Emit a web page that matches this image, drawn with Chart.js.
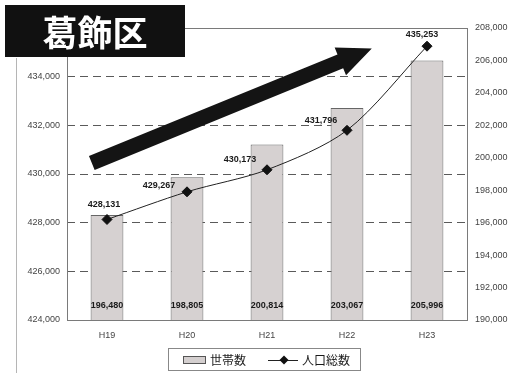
<!DOCTYPE html>
<html>
<head>
<meta charset="utf-8">
<script src="https://cdn.jsdelivr.net/npm/chart.js@4.4.1/dist/chart.umd.min.js"></script>
<style>
  html, body { margin: 0; padding: 0; background: #fff; }
  #wrap { width: 510px; height: 373px; }
</style>
</head>
<body>
<div id="wrap"><canvas id="c" width="510" height="373"></canvas></div>
<script>
// 葛飾区 世帯数・人口総数の推移
const years = ['H19', 'H20', 'H21', 'H22', 'H23'];
const households = [196480, 198805, 200814, 203067, 205996];   // 世帯数
const population = [428131, 429267, 430173, 431796, 435253];   // 人口総数
const popTicks = [424000, 426000, 428000, 430000, 432000, 434000, 436000];
const hhTicks = [190000, 192000, 194000, 196000, 198000, 200000, 202000, 204000, 206000, 208000];

const fmt = v => Number(v).toLocaleString('en-US');
const FONT = '"Liberation Sans", Arial, sans-serif';
const JP = '"Noto Sans CJK JP", sans-serif';

// Value labels for both series
const valueLabels = {
  id: 'valueLabels',
  afterDatasetsDraw(chart, args, opts) {
    const ctx = chart.ctx;
    ctx.save();
    ctx.font = 'bold 9px ' + FONT;
    ctx.fillStyle = '#1a1a1a';
    ctx.textAlign = 'center';
    ctx.textBaseline = 'middle';
    const barMeta = chart.getDatasetMeta(0);
    barMeta.data.forEach((bar, i) => {
      ctx.fillText(fmt(households[i]), bar.x, chart.chartArea.bottom - 14);
    });
    const lineMeta = chart.getDatasetMeta(1);
    lineMeta.data.forEach((pt, i) => {
      const o = opts.lineOffsets[i];
      ctx.fillText(fmt(population[i]), pt.x + o[0], pt.y + o[1]);
    });
    ctx.restore();
  }
};

// Trend arrow, placed in data units (category index / population axis)
const trendArrow = {
  id: 'trendArrow',
  beforeDatasetsDraw(chart, args, opts) {
    const x = chart.scales.x, y = chart.scales.yL, ctx = chart.ctx;
    const x0 = x.getPixelForValue(opts.from[0]), y0 = y.getPixelForValue(opts.from[1]);
    const x1 = x.getPixelForValue(opts.to[0]), y1 = y.getPixelForValue(opts.to[1]);
    const dx = x1 - x0, dy = y1 - y0, len = Math.hypot(dx, dy);
    const ux = dx / len, uy = dy / len, nx = -uy, ny = ux;
    const sw = opts.shaft / 2, hw = opts.headWidth / 2, hl = opts.headLength;
    const bx = x1 - ux * hl, by = y1 - uy * hl;
    ctx.save();
    ctx.fillStyle = '#141414';
    ctx.beginPath();
    ctx.moveTo(x0 + nx * sw, y0 + ny * sw);
    ctx.lineTo(bx + nx * sw, by + ny * sw);
    ctx.lineTo(bx + nx * hw, by + ny * hw);
    ctx.lineTo(x1, y1);
    ctx.lineTo(bx - nx * hw, by - ny * hw);
    ctx.lineTo(bx - nx * sw, by - ny * sw);
    ctx.lineTo(x0 - nx * sw, y0 - ny * sw);
    ctx.closePath();
    ctx.fill();
    ctx.restore();
  }
};

// Plot frame, outer margin line, title badge and legend
const decorations = {
  id: 'decorations',
  afterDraw(chart) {
    const ctx = chart.ctx, a = chart.chartArea;
    ctx.save();
    // plot frame
    ctx.strokeStyle = '#7a7a7a';
    ctx.lineWidth = 1;
    ctx.strokeRect(Math.round(a.left) + 0.5, Math.round(a.top) + 0.5,
                   Math.round(a.right - a.left), Math.round(a.bottom - a.top));
    // outer margin line
    ctx.strokeStyle = '#b5b5b5';
    ctx.beginPath();
    ctx.moveTo(16.5, 58); ctx.lineTo(16.5, 373);
    ctx.stroke();

    // title badge
    ctx.fillStyle = '#111';
    ctx.fillRect(5, 5, 180, 52);
    ctx.fillStyle = '#fff';
    ctx.font = 'bold 35px ' + JP;
    ctx.textAlign = 'center';
    ctx.textBaseline = 'middle';
    ctx.fillText('葛飾区', 95, 33);

    // legend
    const ly = 360;
    ctx.strokeStyle = '#888';
    ctx.strokeRect(168.5, 348.5, 192, 22);
    ctx.fillStyle = '#d4cfcf';
    ctx.fillRect(183, ly - 4, 22, 7);
    ctx.strokeStyle = '#555';
    ctx.strokeRect(183.5, ly - 3.5, 22, 7);
    ctx.fillStyle = '#1a1a1a';
    ctx.font = '12px ' + JP;
    ctx.textAlign = 'left';
    ctx.fillText('世帯数', 210, ly);
    ctx.strokeStyle = '#222';
    ctx.beginPath();
    ctx.moveTo(268, ly + 0.5); ctx.lineTo(298, ly + 0.5);
    ctx.stroke();
    ctx.fillStyle = '#111';
    ctx.beginPath();
    ctx.moveTo(284, ly - 4.5); ctx.lineTo(288.5, ly); ctx.lineTo(284, ly + 4.5); ctx.lineTo(279.5, ly);
    ctx.closePath();
    ctx.fill();
    ctx.fillStyle = '#1a1a1a';
    ctx.fillText('人口総数', 302, ly);
    ctx.restore();
  }
};

new Chart(document.getElementById('c'), {
  data: {
    labels: years,
    datasets: [
      {
        type: 'bar',
        label: '世帯数',
        data: households,
        yAxisID: 'yR',
        backgroundColor: '#d6d1d1',
        borderColor: '#666',
        borderWidth: 1,
        barPercentage: 0.41,
        categoryPercentage: 1,
        order: 2
      },
      {
        type: 'line',
        label: '人口総数',
        data: population,
        yAxisID: 'yL',
        borderColor: '#222',
        borderWidth: 1,
        tension: 0.3,
        pointStyle: 'rectRot',
        pointRadius: 5,
        pointBackgroundColor: '#111',
        pointBorderColor: '#111',
        order: 1
      }
    ]
  },
  options: {
    responsive: false,
    animation: false,
    layout: { padding: { top: 28, bottom: 28, left: 0, right: 0 } },
    plugins: {
      legend: { display: false },
      tooltip: { enabled: false },
      valueLabels: { lineOffsets: [[-3, -15], [-28, -6], [-27, -10], [-26, -10], [-5, -12]] },
      trendArrow: { from: [-0.19, 430450], to: [3.31, 435160], shaft: 15, headWidth: 30, headLength: 34 }
    },
    scales: {
      x: {
        offset: true,
        grid: { display: false, drawTicks: false },
        border: { display: false },
        ticks: { font: { family: FONT, size: 9 }, color: '#444', padding: 10 },
        afterFit(s) { s.height = 25; }
      },
      yL: {
        position: 'left',
        min: 424000, max: 436000,
        afterBuildTicks(s) { s.ticks = popTicks.map(v => ({ value: v })); },
        grid: { color: '#5a5a5a', drawTicks: false },
        border: { display: false, dash: [8, 5] },
        ticks: { font: { family: FONT, size: 9 }, color: '#444', padding: 7, callback: v => fmt(v) },
        afterFit(s) { s.width = 67; }
      },
      yR: {
        position: 'right',
        min: 190000, max: 208000,
        afterBuildTicks(s) { s.ticks = hhTicks.map(v => ({ value: v })); },
        grid: { drawOnChartArea: false, drawTicks: false },
        border: { display: false },
        ticks: { font: { family: FONT, size: 9 }, color: '#444', padding: 8, callback: v => fmt(v) },
        afterFit(s) { s.width = 43; }
      }
    }
  },
  plugins: [trendArrow, valueLabels, decorations]
});
</script>
</body>
</html>
